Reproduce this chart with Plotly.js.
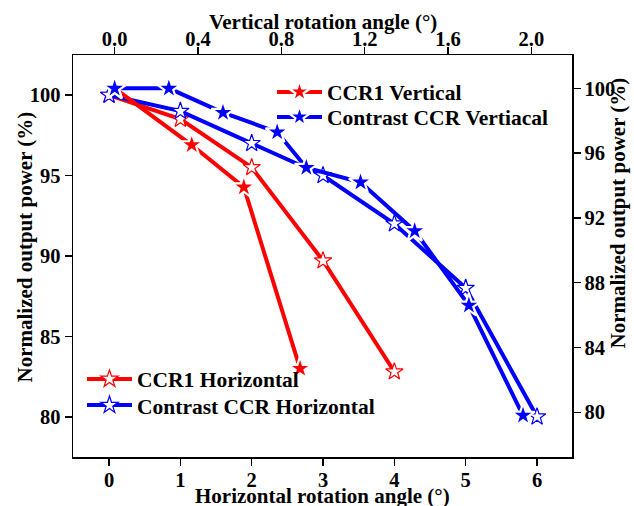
<!DOCTYPE html>
<html>
<head>
<meta charset="utf-8">
<script src="https://cdn.plot.ly/plotly-3.0.1.min.js"></script>
<style>html,body{margin:0;padding:0;background:#fff;}#chart{width:634px;height:506px;}</style>
</head>
<body>
<div id="chart"></div>
<script>
// Horizontal rotation (bottom x axis, left y axis)
const horizAngle = [0, 1, 2, 3, 4, 5, 6];
const ccr1Horizontal = [100, 98.5, 95.5, 89.7, 82.8];
const contrastHorizontal = [100, 99.0, 97.0, 95.0, 92.0, 88.0, 80.0];
// Vertical rotation (top x axis, right y axis)
const ccr1VertAngle = [0, 0.37, 0.62, 0.89];
const ccr1Vertical = [100, 96.5, 93.9, 82.7];
const contrastVertAngle = [0, 0.26, 0.52, 0.78, 0.92, 1.18, 1.44, 1.70, 1.96];
const contrastVertical = [100, 100, 98.5, 97.3, 95.1, 94.2, 91.2, 86.6, 79.8];

const bottomTicks = [0, 1, 2, 3, 4, 5, 6];
const topTicks = [0.0, 0.4, 0.8, 1.2, 1.6, 2.0];
const leftTicks = [80, 85, 90, 95, 100];
const rightTicks = [80, 84, 88, 92, 96, 100];

const xTitleBottom = 'Horizontal rotation angle (°)';
const xTitleTop = 'Vertical rotation angle (°)';
const yTitle = 'Normalized output power (%)';

const RED = '#ff0000', BLUE = '#0000ff';
const FAMILY = 'Liberation Serif, Times New Roman, serif';
const FONT = {family: FAMILY, size: 20.5, color: '#000', weight: 'bold'};
const TITLE_FONT = {family: FAMILY, size: 21, color: '#000', weight: 'bold'};
const LEGEND_FONT = {family: FAMILY, size: 21.5, color: '#000', weight: 'bold'};

function openStar(color) {
  return {symbol: 'star', size: 13, color: '#ffffff', line: {color: color, width: 1.2}};
}
function filledStar(color) {
  return {symbol: 'star', size: 17.5, color: color, line: {color: '#ffffff', width: 2.2}};
}

const traces = [
  {x: horizAngle.slice(0, ccr1Horizontal.length), y: ccr1Horizontal, name: 'CCR1 Horizontal',
   mode: 'lines+markers', line: {color: RED, width: 4}, marker: openStar(RED),
   xaxis: 'x', yaxis: 'y', legend: 'legend3'},
  {x: horizAngle, y: contrastHorizontal, name: 'Contrast CCR Horizontal',
   mode: 'lines+markers', line: {color: BLUE, width: 4}, marker: openStar(BLUE),
   xaxis: 'x', yaxis: 'y', legend: 'legend4'},
  {x: ccr1VertAngle, y: ccr1Vertical, name: 'CCR1 Vertical',
   mode: 'lines+markers', line: {color: RED, width: 4}, marker: filledStar(RED),
   xaxis: 'x2', yaxis: 'y2', legend: 'legend'},
  {x: contrastVertAngle, y: contrastVertical, name: 'Contrast CCR Vertiacal',
   mode: 'lines+markers', line: {color: BLUE, width: 4}, marker: filledStar(BLUE),
   xaxis: 'x2', yaxis: 'y2', legend: 'legend2'}
];

const axisCommon = {
  showline: true, linecolor: '#000', linewidth: 1.5, showgrid: false, zeroline: false,
  ticks: 'outside', ticklen: 7, tickwidth: 1.5, tickcolor: '#000', tickfont: FONT
};

function legendAt(x, y) {
  return {x: x, y: y, xanchor: 'left', yanchor: 'middle', bgcolor: 'rgba(0,0,0,0)',
          font: LEGEND_FONT, itemwidth: 45, tracegroupgap: 0};
}

const layout = {
  width: 634, height: 506,
  margin: {l: 73, r: 62, t: 55, b: 49},
  paper_bgcolor: '#fff', plot_bgcolor: '#fff',
  font: FONT,
  xaxis: Object.assign({}, axisCommon, {
    range: [-0.505, 6.49], tickvals: bottomTicks, ticktext: bottomTicks.map(String),
    ticklabelstandoff: -3
  }),
  xaxis2: Object.assign({}, axisCommon, {
    overlaying: 'x', side: 'top', anchor: 'y', ticklabelstandoff: -8,
    range: [-0.2, 2.195], tickvals: topTicks, ticktext: topTicks.map(v => v.toFixed(1))
  }),
  yaxis: Object.assign({}, axisCommon, {
    range: [77.5, 102.49], tickvals: leftTicks, ticktext: leftTicks.map(String)
  }),
  yaxis2: Object.assign({}, axisCommon, {
    overlaying: 'y', side: 'right', anchor: 'x',
    range: [77.24, 102.06], tickvals: rightTicks, ticktext: rightTicks.map(String)
  }),
  annotations: [
    {text: xTitleBottom, xref: 'paper', yref: 'paper', x: 0.4995, y: -0.097, xanchor: 'center', yanchor: 'middle', showarrow: false, font: TITLE_FONT},
    {text: xTitleTop, xref: 'paper', yref: 'paper', x: 0.502, y: 1.082, xanchor: 'center', yanchor: 'middle', showarrow: false, font: TITLE_FONT},
    {text: yTitle, xref: 'paper', yref: 'paper', x: -0.0962, y: 0.5236, xanchor: 'center', yanchor: 'middle', textangle: -90, showarrow: false, font: TITLE_FONT},
    {text: yTitle, xref: 'paper', yref: 'paper', x: 1.0902, y: 0.6057, xanchor: 'center', yanchor: 'middle', textangle: -90, showarrow: false, font: TITLE_FONT}
  ],
  legend: legendAt(0.3988, 0.908),
  legend2: legendAt(0.3988, 0.846),
  legend3: legendAt(0.018, 0.194),
  legend4: legendAt(0.018, 0.129),
  showlegend: true
};

Plotly.newPlot('chart', traces, layout, {displayModeBar: false, staticPlot: true});
</script>
</body>
</html>
